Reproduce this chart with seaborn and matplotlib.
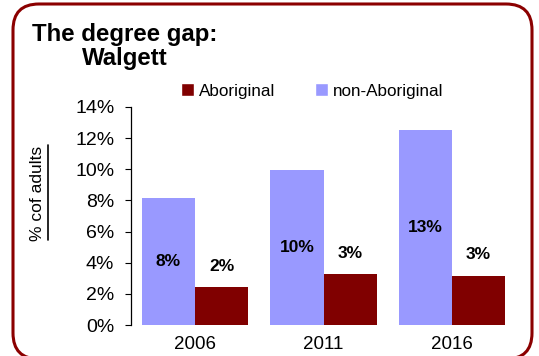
import matplotlib
matplotlib.use("Agg")
import matplotlib.pyplot as plt
from matplotlib.patches import FancyBboxPatch, Patch
from matplotlib.lines import Line2D
from matplotlib.transforms import IdentityTransform
import seaborn as sns
import pandas as pd

years = ["2006", "2011", "2016"]
non_aboriginal = [8.15, 9.97, 12.55]
aboriginal = [2.42, 3.28, 3.17]
groups = ["non-Aboriginal", "Aboriginal"]
colors = {"non-Aboriginal": "#9999FF", "Aboriginal": "#800000"}
y_ticks = [0, 2, 4, 6, 8, 10, 12, 14]

df = pd.DataFrame({
    "year": years * 2,
    "group": [groups[0]] * 3 + [groups[1]] * 3,
    "value": non_aboriginal + aboriginal,
})

sns.set_style("white")
plt.rcParams["font.family"] = ["Liberation Sans", "DejaVu Sans"]
plt.rcParams["text.color"] = "black"
plt.rcParams["xtick.color"] = "black"
plt.rcParams["ytick.color"] = "black"

W, H, DPI = 539, 356, 100
fig = plt.figure(figsize=(W / DPI, H / DPI), dpi=DPI)
ax = fig.add_axes([131 / W, 31 / H, (516 - 131) / W, 218 / H])

sns.barplot(data=df, x="year", y="value", hue="group", hue_order=groups,
            palette=colors, width=0.83, saturation=1, edgecolor="none",
            legend=False, ax=ax)

ax.set_xlim(-0.5, 2.5)
ax.set_ylim(0, 14)
ax.set_yticks(y_ticks)
ax.set_yticklabels([f"{t}%" for t in y_ticks], fontsize=14)
ax.tick_params(axis="y", direction="out", length=4.5, width=0.8,
               left=True, pad=7.5)
ax.tick_params(axis="x", length=0, labelsize=13.5, pad=8)
ax.set_xlabel("")
ax.set_ylabel("")
for s in ["top", "right", "bottom"]:
    ax.spines[s].set_visible(False)
ax.spines["left"].set_color("black")
ax.spines["left"].set_linewidth(0.9)
ax.yaxis.get_major_ticks()[0].tick1line.set_color("#999999")

# value labels: inside (centred) for non-Aboriginal, above bar for Aboriginal
for container, grp in zip(ax.containers, groups):
    for bar in container:
        h = bar.get_height()
        cx = bar.get_x() + bar.get_width() / 2
        if grp == "non-Aboriginal":
            ax.text(cx, h / 2, f"{h:.0f}%", ha="center", va="center",
                    fontsize=12.5, fontweight="bold")
        else:
            ax.annotate(f"{h:.0f}%", (cx, h), xytext=(0, 15),
                        textcoords="offset points", ha="center", va="center",
                        fontsize=12.5, fontweight="bold")

# title
fig.text(125 / W, 1 - 46.5 / H, "The degree gap:\nWalgett", ha="center",
         va="center", fontsize=17.3, fontweight="bold", linespacing=1.05,
         multialignment="center")

# legend
handles = [Patch(facecolor=colors["Aboriginal"], label="Aboriginal"),
           Patch(facecolor=colors["non-Aboriginal"], label="non-Aboriginal")]
fig.legend(handles=handles, loc="center left",
           bbox_to_anchor=(181 / W, 1 - 91 / H), ncol=2, frameon=False,
           fontsize=12.3, handlelength=0.75, handleheight=0.75,
           handletextpad=0.3, columnspacing=2.35, borderaxespad=0,
           borderpad=0)

# y-axis title with underline
fig.text(37.5 / W, 1 - 193 / H, "% cof adults", rotation=90, ha="center",
         va="center", fontsize=12.5)
fig.add_artist(Line2D([48 / W, 48 / W], [1 - 240 / H, 1 - 145 / H],
                      transform=fig.transFigure, color="black", lw=1.2))

# rounded frame around the whole chart
frame = FancyBboxPatch((13, -3), 519, 355,
                       boxstyle="round,pad=0,rounding_size=26",
                       transform=IdentityTransform(), facecolor="none",
                       edgecolor="#8B0000", linewidth=2.2)
fig.add_artist(frame)

fig.savefig("out.png", dpi=DPI)
